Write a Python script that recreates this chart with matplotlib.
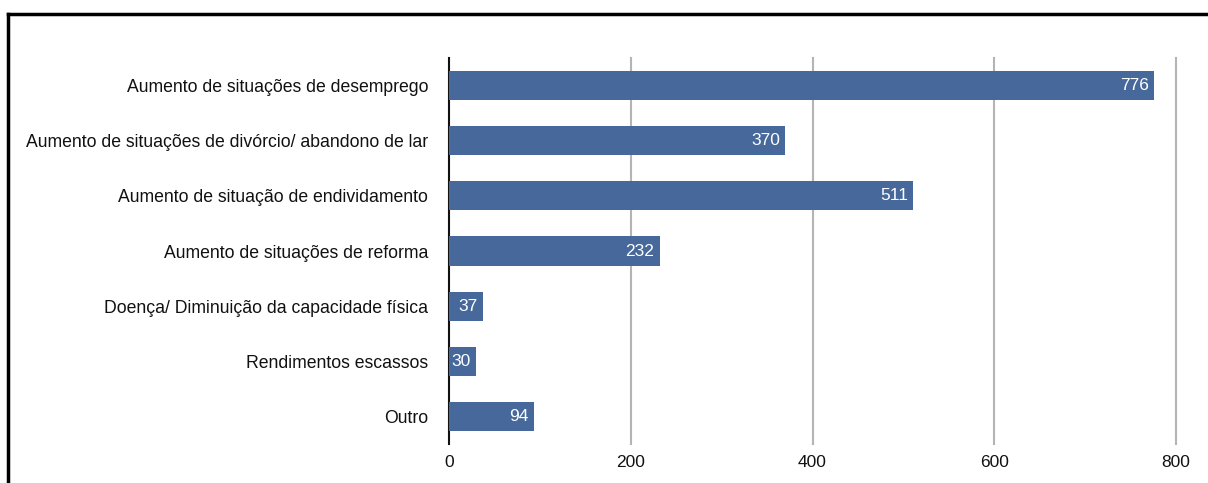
import matplotlib.pyplot as plt
from matplotlib.lines import Line2D

# dados do gráfico
categorias = [
    "Aumento de situações de desemprego",
    "Aumento de situações de divórcio/ abandono de lar",
    "Aumento de situação de endividamento",
    "Aumento de situações de reforma",
    "Doença/ Diminuição da capacidade física",
    "Rendimentos escassos",
    "Outro",
]
valores = [776, 370, 511, 232, 37, 30, 94]
ticks_x = [0, 200, 400, 600, 800]

plt.rcParams['font.family'] = ['Liberation Sans', 'DejaVu Sans']

fig = plt.figure(figsize=(12.08, 4.83), dpi=100)
ax = fig.add_axes([449 / 1208, 1 - 444 / 483, (1176 - 449) / 1208, (444 - 58) / 483])

pos = list(range(len(categorias)))
barras = ax.barh(pos, valores, height=0.53, color='#46689a', zorder=3)

for b, v in zip(barras, valores):
    ax.text(b.get_width() - 6, b.get_y() + b.get_height() / 2, str(v),
            color='white', ha='right', va='center', fontsize=12.5, zorder=4)

ax.set_xlim(0, 800)
ax.set_ylim(len(categorias) - 0.5, -0.5)
ax.set_yticks(pos)
ax.set_yticklabels(categorias, fontsize=12.7, color='#111111')
ax.set_xticks(ticks_x)
ax.set_xticklabels([str(t) for t in ticks_x], fontsize=12.5, color='#111111')
ax.tick_params(axis='y', length=0, pad=15)
ax.tick_params(axis='x', length=0, pad=8)

# linhas de grelha verticais
for t in ticks_x[1:]:
    ax.axvline(t, color='#b4b4b4', lw=1.5, zorder=1, clip_on=False)

for s in ['top', 'right', 'bottom']:
    ax.spines[s].set_visible(False)
ax.spines['left'].set_color('#111111')
ax.spines['left'].set_linewidth(1.5)

# moldura preta (só topo e esquerda visíveis)
fig.add_artist(Line2D([8 / 1208, 1], [1 - 14 / 483, 1 - 14 / 483], color='black', lw=2.5,
                      transform=fig.transFigure))
fig.add_artist(Line2D([8 / 1208, 8 / 1208], [0, 1 - 14 / 483], color='black', lw=2.5,
                      transform=fig.transFigure))

fig.savefig('out.png', dpi=100)
